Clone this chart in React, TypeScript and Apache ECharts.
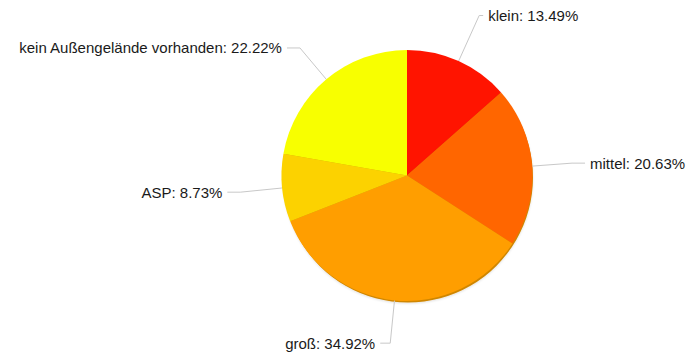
import React, { useEffect, useRef } from "react";
import * as echarts from "echarts";

const categories = ["klein", "mittel", "groß", "ASP", "kein Außengelände vorhanden"];
const counts = [17, 26, 44, 11, 28];
const colors = ["#ff1400", "#ff6600", "#ff9e00", "#fcd200", "#f8ff00"];
const lineLen = [50, 40, 43, 42, 41];
const lineLen2 = [4, 13, 10, 13, 13];

export default function App() {
  const ref = useRef<HTMLDivElement>(null);
  useEffect(() => {
    if (!ref.current) return;
    const chart = echarts.init(ref.current, undefined, { renderer: "svg" });
    const total = counts.reduce((a, b) => a + b, 0);
    chart.setOption({
      animation: false,
      backgroundColor: "#ffffff",
      series: [
        {
          type: "pie",
          silent: true,
          center: [408, 177.5],
          radius: 125,
          label: { show: false },
          labelLine: { show: false },
          itemStyle: {
            color: "#cf8600",
            borderWidth: 0,
            shadowColor: "rgba(0,0,0,0.12)",
            shadowBlur: 2,
            shadowOffsetX: 0,
            shadowOffsetY: 1,
          },
          emphasis: { disabled: true },
          data: [{ value: total, name: "" }],
          z: 1,
        },
        {
          type: "pie",
          center: [407, 175.5],
          radius: 125.5,
          startAngle: 90,
          clockwise: true,
          avoidLabelOverlap: false,
          z: 2,
          itemStyle: { borderWidth: 0 },
          label: {
            show: true,
            position: "outside",
            formatter: (p: any) => `${p.name}: ${((p.value / total) * 100).toFixed(2)}%`,
            fontFamily: "Liberation Sans, Arial, sans-serif",
            fontSize: 15,
            color: "#1a1a1a",
          },
          labelLine: {
            show: true,
            lineStyle: { color: "#c8c8c8", width: 1 },
          },
          emphasis: { disabled: true },
          data: categories.map((name, i) => ({
            name,
            value: counts[i],
            itemStyle: { color: colors[i] },
            labelLine: { length: lineLen[i], length2: lineLen2[i] },
          })),
        },
      ],
    });
    return () => chart.dispose();
  }, []);
  return (
    <div
      ref={ref}
      style={{ position: "absolute", left: 0, top: 0, width: 689, height: 358 }}
    />
  );
}
